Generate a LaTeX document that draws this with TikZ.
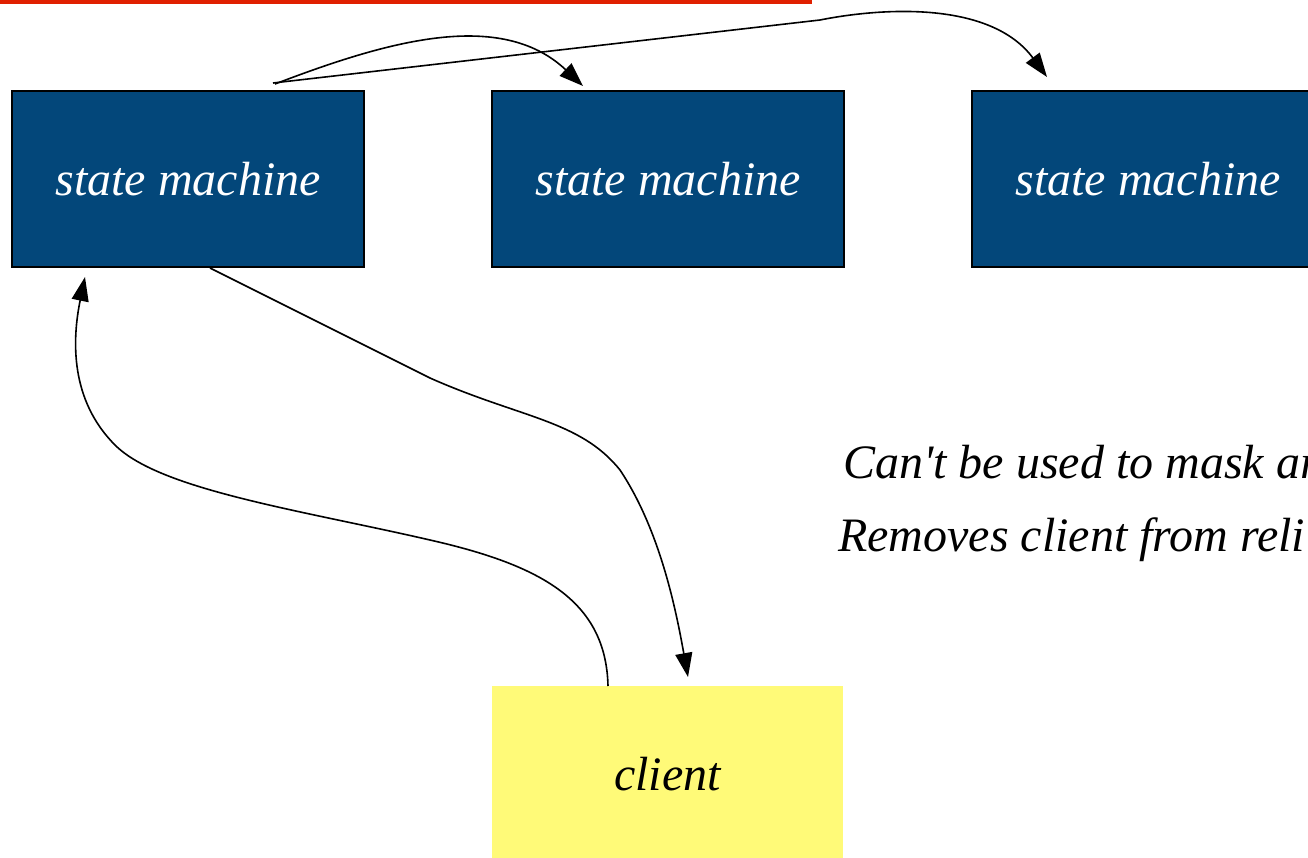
\documentclass[tikz,border=0pt]{standalone}
\usepackage{fontspec}
\setmainfont{Liberation Serif}[Ligatures=TeXOff]
\usetikzlibrary{arrows.meta}
\definecolor{smblue}{HTML}{03477A}
\definecolor{clyellow}{HTML}{FFFA78}
\definecolor{topred}{HTML}{E02000}
\tikzset{
  smbox/.style={draw=black, line width=1.5pt, fill=smblue, text=white, minimum width=352pt, minimum height=176pt, inner sep=0pt, font=\fontsize{48}{56}\selectfont\itshape},
  clbox/.style={fill=clyellow, minimum width=351pt, minimum height=176pt, inner sep=0pt, font=\fontsize{48}{56}\selectfont\itshape},
  note/.style={anchor=base west, inner sep=0pt, font=\fontsize{48}{56}\selectfont\itshape},
  conn/.style={line width=1.6pt, -{Triangle[length=24pt,width=17pt]}},
}
\begin{document}
\begin{tikzpicture}[x=1pt,y=-1pt]
\useasboundingbox (0,0) rectangle (1308,857);
\clip (0,0) rectangle (1308,857);
\fill[topred] (0,0) rectangle (812,3.5);
\node[smbox] (sm1) at (188,179) {state machine};
\node[smbox] (sm2) at (668,179) {state machine};
\node[smbox] (sm3) at (1148,179) {state machine};
\node[clbox] (cl) at (667.5,774) {client};
\node[note] (n1) at (843,478) {Can't be used to mask ar};
\node[note] (n2) at (838,551) {Removes client from reli};
\coordinate (s1) at (275,84);
\coordinate (s2) at (273,83);
\coordinate (t2) at (583,86);
\coordinate (t3) at (1047,77);
\coordinate (s4) at (210,268);
\coordinate (t4) at (688,677);
\coordinate (s5) at (608,686);
\coordinate (t5) at (85,277);
\draw[conn] (s1) .. controls (385,42) and (500,8) .. (t2);
\draw[conn] (s2) -- (820,20) .. controls (880,8) and (990,0) .. (t3);
\draw[conn] (s4) -- (430,378) .. controls (520,418) and (580,420) .. (620,470) .. controls (660,530) and (676,610) .. (t4);
\draw[conn] (s5) .. controls (606,600) and (540,565) .. (430,540) .. controls (300,510) and (160,490) .. (115,445) .. controls (70,400) and (72,340) .. (t5);
\end{tikzpicture}
\end{document}
